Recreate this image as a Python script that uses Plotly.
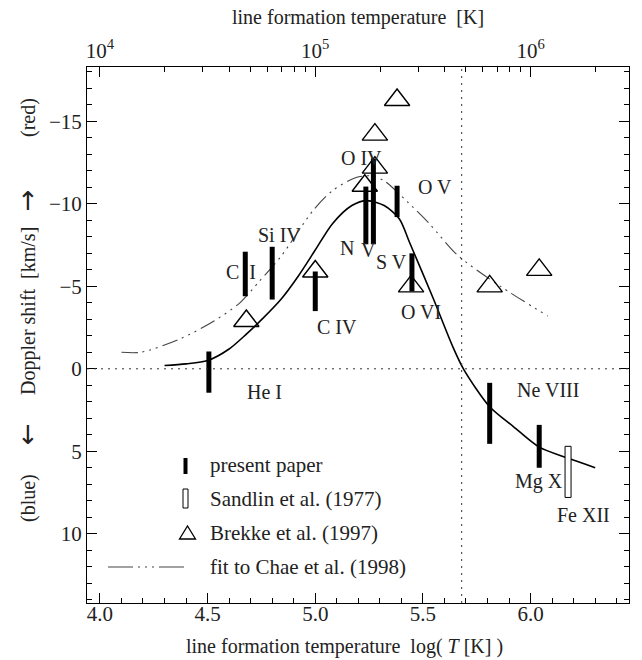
import plotly.graph_objects as go

# ---------------- data ----------------
# present paper (thick bars): log T, Doppler shift centre, half length
bar_logT = [4.506, 4.675, 4.80, 5.00, 5.235, 5.27, 5.38, 5.449, 5.81, 6.04]
bar_v = [0.2, -5.75, -5.8, -4.7, -9.3, -10.15, -10.15, -5.85, 2.7, 4.7]
bar_err = [1.25, 1.35, 1.6, 1.2, 1.75, 2.6, 0.95, 1.15, 1.85, 1.3]

# Sandlin et al. (1977): hollow bar
sand_logT = [6.174]
sand_lo = [4.7]
sand_hi = [7.8]

# Brekke et al. (1997): triangles
tri_logT = [4.68, 5.00, 5.23, 5.277, 5.277, 5.38, 5.445, 5.81, 6.04]
tri_v = [-2.9, -5.9, -11.1, -12.2, -14.2, -16.3, -5.0, -5.0, -6.0]

# solid model curve
solid_logT = [4.30, 4.40, 4.50, 4.60, 4.68, 4.76, 4.84, 4.92, 5.00, 5.08, 5.17,
              5.24, 5.32, 5.39, 5.44, 5.55, 5.64, 5.69, 5.81, 5.92, 6.04, 6.17, 6.30]
solid_v = [-0.2, -0.3, -0.5, -1.2, -2.1, -3.1, -4.2, -5.6, -7.2, -8.8, -9.9,
           -10.2, -9.9, -9.1, -7.6, -4.2, -1.3, 0.05, 2.3, 3.5, 4.75, 5.4, 6.0]

# fit to Chae et al. (1998)
chae_logT = [4.10, 4.19, 4.37, 4.53, 4.65, 4.74, 4.84, 4.99, 5.08, 5.19, 5.26,
             5.32, 5.43, 5.53, 5.66, 5.86, 6.08]
chae_v = [-1.0, -1.0, -1.8, -2.9, -4.0, -5.3, -6.8, -9.6, -10.8, -11.6, -11.7,
          -11.4, -10.1, -8.8, -6.9, -5.0, -3.2]

# line labels
lab_text = ["He I", "C  I", "Si IV", "C IV", "O IV", "O V", "N", "V", "S V",
            "O VI", "Ne VIII", "Mg X", "Fe XII"]
lab_logT = [4.766, 4.655, 4.836, 5.10, 5.217, 5.556, 5.147, 5.245, 5.356,
            5.49, 6.081, 6.039, 6.248]
lab_v = [1.39, -5.9, -8.1, -2.55, -12.8, -11.0, -7.33, -7.2, -6.5,
         -3.45, 1.27, 6.85, 8.85]

xticks = [4.0, 4.5, 5.0, 5.5, 6.0]
xticklabels = ["4.0", "4.5", "5.0", "5.5", "6.0"]
yticks = [-15, -10, -5, 0, 5, 10]
yticklabels = ["\u221215", "\u221210", "\u22125", "0", "5", "10"]
top_ticks = [1e4, 1e5, 1e6]
top_ticklabels = ["10<sup>4</sup>", "10<sup>5</sup>", "10<sup>6</sup>"]
top_minor = [m * 10 ** e for e in (4, 5) for m in range(2, 10)] + [2e6]

legend_labels = ["present paper", "Sandlin et al. (1977)", "Brekke et al. (1997)",
                 "fit to Chae et al. (1998)"]

T_transition = 5.68

# ---------------- layout geometry ----------------
W, H = 642, 660
ML, MR, MT, MB = 87, 13, 67, 57
XR = [3.94, 6.457]
YR = [14.2, -18.3]
FONT = "Liberation Serif, Times New Roman, serif"
PW, PH = W - ML - MR, H - MT - MB


def pxx(p):
    return (p - ML) / PW


def pxy(p):
    return (H - MB - p) / PH


fig = go.Figure()

# Chae fit
fig.add_trace(go.Scatter(x=chae_logT, y=chae_v, mode="lines",
                         line=dict(color="#444", width=1.1, shape="spline",
                                   smoothing=0.8,
                                   dash="16px,5px,2px,5px,2px,5px,2px,5px"),
                         hoverinfo="skip"))
# model curve
fig.add_trace(go.Scatter(x=solid_logT, y=solid_v, mode="lines",
                         line=dict(color="black", width=1.6, shape="spline", smoothing=0.8),
                         hoverinfo="skip"))

# present paper bars
bx, by = [], []
for x, v, e in zip(bar_logT, bar_v, bar_err):
    bx += [x, x, None]
    by += [v - e, v + e, None]
fig.add_trace(go.Scatter(x=bx, y=by, mode="lines",
                         line=dict(color="black", width=5), hoverinfo="skip"))

# Brekke triangles
fig.add_trace(go.Scatter(x=tri_logT, y=tri_v, mode="markers",
                         marker=dict(symbol="triangle-up-open", size=22,
                                     color="black", line=dict(width=1.4, color="black")),
                         hoverinfo="skip"))

# placeholder trace for the top axis (draws nothing)
fig.add_trace(go.Scatter(x=[top_ticks[0]], y=[0], xaxis="x2", mode="none",
                         hoverinfo="skip"))

shapes = []
# dotted reference lines
shapes.append(dict(type="line", xref="paper", yref="y", x0=0, x1=1, y0=0, y1=0,
                   line=dict(color="#333", width=1, dash="2px,5px")))
shapes.append(dict(type="line", xref="x", yref="paper", x0=T_transition, x1=T_transition,
                   y0=0, y1=1, line=dict(color="#333", width=1, dash="2px,5px")))
# Sandlin hollow bars
for x, lo, hi in zip(sand_logT, sand_lo, sand_hi):
    shapes.append(dict(type="rect", xref="x", yref="y", xsizemode="pixel", xanchor=x,
                       x0=-3, x1=3, y0=lo, y1=hi,
                       line=dict(color="black", width=1), fillcolor="white"))

# legend icons
shapes.append(dict(type="line", xref="paper", yref="paper", x0=pxx(185.5), x1=pxx(185.5),
                   y0=pxy(474), y1=pxy(458), line=dict(color="black", width=4)))
shapes.append(dict(type="rect", xref="paper", yref="paper", x0=pxx(183), x1=pxx(188),
                   y0=pxy(508), y1=pxy(489), line=dict(color="black", width=1),
                   fillcolor="white"))
shapes.append(dict(type="path", xref="paper", yref="paper",
                   path="M %f,%f L %f,%f L %f,%f Z" % (pxx(179.5), pxy(539), pxx(195.5), pxy(539),
                                                      pxx(187.5), pxy(526)),
                   line=dict(color="black", width=1.3)))
shapes.append(dict(type="line", xref="paper", yref="paper", x0=pxx(108), x1=pxx(187),
                   y0=pxy(567), y1=pxy(567),
                   line=dict(color="#444", width=1.1,
                             dash="25px,5px,2px,5px,2px,5px,2px,5px")))

annotations = []
for t, x, v in zip(lab_text, lab_logT, lab_v):
    annotations.append(dict(x=x, y=v, xref="x", yref="y", text=t, showarrow=False,
                            xanchor="center", yanchor="middle",
                            font=dict(family=FONT, size=20, color="#222")))
for i, t in enumerate(legend_labels):
    annotations.append(dict(x=pxx(208), y=pxy(465 + 34 * i), xref="paper", yref="paper",
                            text=t, showarrow=False, xanchor="left", yanchor="middle",
                            font=dict(family=FONT, size=21, color="#222")))

# axis titles
annotations.append(dict(x=pxx(358), y=pxy(18), xref="paper", yref="paper",
                        text="line formation temperature  [K]", showarrow=False,
                        xanchor="center", yanchor="middle",
                        font=dict(family=FONT, size=20, color="#222")))
annotations.append(dict(x=pxx(344), y=pxy(646), xref="paper", yref="paper",
                        text="line formation temperature  log( <i>T</i> [K] )", showarrow=False,
                        xanchor="center", yanchor="middle",
                        font=dict(family=FONT, size=20, color="#222")))
for t, yy, ang in [("(red)", 118, -90), ("Doppler shift  [km/s]", 311, -90),
                   ("(blue)", 498, -90)]:
    annotations.append(dict(x=pxx(28), y=pxy(yy), xref="paper", yref="paper",
                            text=t, showarrow=False, textangle=ang,
                            xanchor="center", yanchor="middle",
                            font=dict(family=FONT, size=20, color="#222")))
for t, yy in [("\u2191", 201), ("\u2193", 435)]:
    annotations.append(dict(x=pxx(28), y=pxy(yy), xref="paper", yref="paper",
                            text=t, showarrow=False,
                            xanchor="center", yanchor="middle",
                            font=dict(family="DejaVu Sans", size=26, color="#222")))

axis_common = dict(showgrid=False, zeroline=False, showline=True, linecolor="black",
                   linewidth=1, ticks="inside", tickcolor="black", tickwidth=1,
                   ticklen=10, automargin=False,
                   tickfont=dict(family=FONT, size=21, color="#222"))

fig.update_layout(
    width=W, height=H,
    margin=dict(l=ML, r=MR, t=MT, b=MB, pad=0, autoexpand=False),
    paper_bgcolor="white", plot_bgcolor="white",
    showlegend=False, hovermode=False,
    shapes=shapes, annotations=annotations,
    xaxis=dict(range=XR, tickvals=xticks, ticktext=xticklabels, ticklabelstandoff=-8,
               minor=dict(ticks="inside", ticklen=5, dtick=0.1, tick0=4.0,
                          tickcolor="black", showgrid=False),
               **axis_common),
    xaxis2=dict(type="log", range=XR, overlaying="x", side="top", anchor="y",
                tickvals=top_ticks, ticktext=top_ticklabels,
                minor=dict(ticks="inside", ticklen=5, tickvals=top_minor,
                           tickcolor="black", showgrid=False),
                **axis_common),
    yaxis=dict(range=YR, tickvals=yticks, ticktext=yticklabels, mirror="ticks",
               minor=dict(ticks="inside", ticklen=5, dtick=1, tick0=0,
                          tickcolor="black", showgrid=False),
               **axis_common),
)

fig.write_html("out.html", config={"displayModeBar": False, "staticPlot": True},
               post_script="document.body.style.margin='0';document.body.style.overflow='hidden';")
